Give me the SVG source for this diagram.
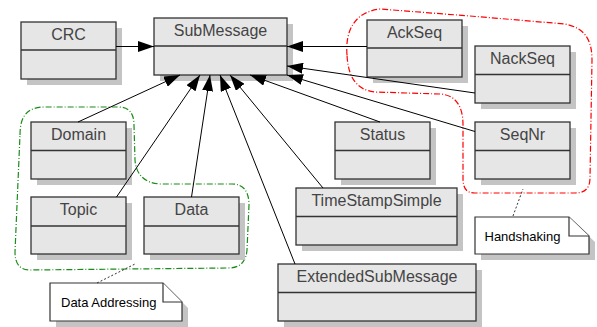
<svg xmlns="http://www.w3.org/2000/svg" width="597" height="327" viewBox="0 0 597 327">
<style>
.sh{fill:#c4c4c4;stroke:none}
.box{fill:#e6e6e6;stroke:#333;stroke-width:1.3}
.div{stroke:#333;stroke-width:1.3}
.t{font-family:"Liberation Sans",Arial,sans-serif;font-size:16px;fill:#444;text-anchor:middle}
.nt{font-family:"Liberation Sans",Arial,sans-serif;font-size:13px;fill:#000}
.note{fill:#fff;stroke:#333;stroke-width:1.2}
.ln{stroke:#000;stroke-width:1;fill:none;marker-end:url(#ah)}
.dot{stroke:#333;stroke-width:1;stroke-dasharray:2,2;fill:none}
.grp{fill:none;stroke-width:1.2;stroke-dasharray:6,2,1,2}
</style>
<defs>
<marker id="ah" markerWidth="16" markerHeight="11" refX="16" refY="5.5" orient="auto" markerUnits="userSpaceOnUse">
<path d="M0,0 L16,5.5 L0,11 Z" fill="#000"/>
</marker>
</defs>
<g id="boundaries">
<path class="grp" stroke="#1a8c1a" d="M20,135 C20,115 28,107 45,107 L118,107 C128,107 134,112 134,125 L135,160 C136,175 145,183 160,184 L232,184 C244,184 249,192 249,205 L247,250 C246,262 240,268 228,268 L30,270 C20,270 15,264 15,252 Z"/>
<path class="grp" stroke="#ff0000" d="M347,55 C345,30 355,12 380,9 L470,16 L565,24 C585,28 592,40 592,60 L590,178 C590,190 583,193 575,193 L475,193 C466,193 463,188 463,178 L463,125 C463,105 455,95 440,94 L375,92 C355,90 348,75 347,55 Z"/>
</g>
<g id="CRC"><rect class="sh" x="27" y="28" width="95" height="57"/><rect class="box" x="21" y="22" width="95" height="57"/><line class="div" x1="21" y1="50" x2="116" y2="50"/><text class="t" x="68.5" y="39.5">CRC</text></g>
<g id="SubMessage"><rect class="sh" x="160" y="24" width="133" height="57"/><rect class="box" x="154" y="18" width="133" height="57"/><line class="div" x1="154" y1="46" x2="287" y2="46"/><text class="t" x="220.5" y="35.5">SubMessage</text></g>
<g id="AckSeq"><rect class="sh" x="373" y="26" width="95" height="57"/><rect class="box" x="367" y="20" width="95" height="57"/><line class="div" x1="367" y1="48" x2="462" y2="48"/><text class="t" x="414.5" y="37.5">AckSeq</text></g>
<g id="NackSeq"><rect class="sh" x="481" y="52" width="95" height="57"/><rect class="box" x="475" y="46" width="95" height="57"/><line class="div" x1="475" y1="74.5" x2="570" y2="74.5"/><text class="t" x="522.5" y="63.5">NackSeq</text></g>
<g id="Domain"><rect class="sh" x="37" y="128" width="95" height="57"/><rect class="box" x="31" y="122" width="95" height="57"/><line class="div" x1="31" y1="150.5" x2="126" y2="150.5"/><text class="t" x="78.5" y="139.5">Domain</text></g>
<g id="Status"><rect class="sh" x="341" y="128" width="95" height="57"/><rect class="box" x="335" y="122" width="95" height="57"/><line class="div" x1="335" y1="150.5" x2="430" y2="150.5"/><text class="t" x="382.5" y="139.5">Status</text></g>
<g id="SeqNr"><rect class="sh" x="481" y="128" width="95" height="57"/><rect class="box" x="475" y="122" width="95" height="57"/><line class="div" x1="475" y1="150.5" x2="570" y2="150.5"/><text class="t" x="522.5" y="139.5">SeqNr</text></g>
<g id="Topic"><rect class="sh" x="37" y="203" width="95" height="57"/><rect class="box" x="31" y="197" width="95" height="57"/><line class="div" x1="31" y1="226" x2="126" y2="226"/><text class="t" x="78.5" y="214.5">Topic</text></g>
<g id="Data"><rect class="sh" x="150" y="203" width="95" height="57"/><rect class="box" x="144" y="197" width="95" height="57"/><line class="div" x1="144" y1="226" x2="239" y2="226"/><text class="t" x="191.5" y="214.5">Data</text></g>
<g id="TimeStampSimple"><rect class="sh" x="302" y="194" width="161" height="57"/><rect class="box" x="296" y="188" width="161" height="57"/><line class="div" x1="296" y1="216.5" x2="457" y2="216.5"/><text class="t" x="376.5" y="205.5">TimeStampSimple</text></g>
<g id="ExtendedSubMessage"><rect class="sh" x="284" y="270" width="198" height="57"/><rect class="box" x="278" y="264" width="198" height="57"/><line class="div" x1="278" y1="292.5" x2="476" y2="292.5"/><text class="t" x="377" y="281.5">ExtendedSubMessage</text></g>
<g id="note-DataAddressing"><path class="sh" d="M56,289 L169,289 L188,308 L188,327 L56,327 Z"/><path class="note" d="M50,283 L163,283 L182,302 L182,321 L50,321 Z"/><path class="note" d="M163,283 L163,302 L182,302"/><text class="nt" x="61" y="306.5">Data Addressing</text></g>
<g id="note-Handshaking"><path class="sh" d="M481,223 L575,223 L595,242 L595,260 L481,260 Z"/><path class="note" d="M475,217 L569,217 L589,236 L589,254 L475,254 Z"/><path class="note" d="M569,217 L569,236 L589,236"/><text class="nt" x="484.5" y="241">Handshaking</text></g>
<g id="connectors">
<line class="ln" x1="116" y1="46.5" x2="154" y2="46.5"/>
<line class="ln" x1="367" y1="46.5" x2="287" y2="46.5"/>
<line class="ln" x1="475" y1="93" x2="287" y2="66"/>
<line class="ln" x1="475" y1="131.5" x2="287" y2="75"/>
<line class="ln" x1="380" y1="122" x2="250" y2="75"/>
<line class="ln" x1="323" y1="188" x2="230" y2="75"/>
<line class="ln" x1="295" y1="264" x2="220" y2="75"/>
<line class="ln" x1="191.5" y1="197" x2="210" y2="75"/>
<line class="ln" x1="116.5" y1="197" x2="200" y2="75"/>
<line class="ln" x1="78" y1="122" x2="180" y2="75"/>
<line class="dot" x1="97" y1="283" x2="135" y2="264"/>
<line class="dot" x1="513" y1="216" x2="523" y2="189"/>
</g>
</svg>
